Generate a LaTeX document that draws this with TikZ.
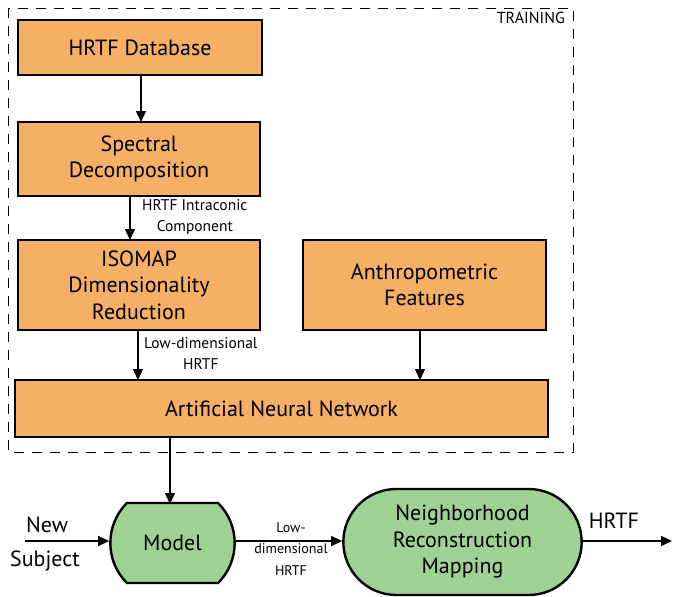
\documentclass[tikz,border=0pt]{standalone}
\usepackage{fontspec}
\setmainfont{PT Sans}
\usetikzlibrary{arrows.meta,shapes.misc}
\definecolor{boxorange}{RGB}{246,176,102}
\definecolor{boxgreen}{RGB}{160,209,148}
\begin{document}
\begin{tikzpicture}[x=1pt,y=-1pt,
  obox/.style={draw=black,line width=2.4pt,fill=boxorange,align=center,font=\fontsize{22}{26.5}\selectfont},
  gbox/.style={draw=black,line width=2.4pt,fill=boxgreen,align=center,font=\fontsize{22}{26.5}\selectfont},
  arr/.style={line width=1.5pt,-{Triangle[length=11pt,width=10pt]}},
  lab/.style={font=\fontsize{15.5}{21}\selectfont,align=center,inner sep=0pt}]
\useasboundingbox (0,0) rectangle (673,597);
\draw[dashed,line width=0.8pt,dash pattern=on 10pt off 8pt] (8,8) rectangle (573,452);
\node[anchor=east,font=\fontsize{16}{18}\selectfont,inner sep=0pt] (train) at (565,18) {TRAINING};
\node[obox,minimum width=244pt,minimum height=55pt] (db) at (140,47.5) {HRTF Database};
\node[obox,minimum width=242pt,minimum height=74pt] (sd) at (139,159) {Spectral\\Decomposition};
\node[obox,minimum width=242pt,minimum height=90pt] (iso) at (139,285) {ISOMAP\\Dimensionality\\Reduction};
\node[obox,minimum width=243pt,minimum height=90pt] (anth) at (424.5,285) {Anthropometric\\Features};
\node[obox,minimum width=533pt,minimum height=57pt] (ann) at (281.5,408.5) {Artificial Neural Network};
\node[gbox,rounded rectangle,rounded rectangle arc length=90,minimum width=131pt,minimum height=80pt] (model) at (172.5,543) {Model};
\node[gbox,rounded rectangle,minimum width=245pt,minimum height=106pt] (nrm) at (462.5,542) {Neighborhood\\Reconstruction\\Mapping};
\coordinate (db1) at (141,75); \coordinate (sd0) at (141,122);
\draw[arr] (db1) -- (sd0);
\coordinate (sd1) at (130,196); \coordinate (iso0) at (130,240);
\draw[arr] (sd1) -- (iso0);
\node[lab,anchor=north west] (l1) at (142,199) {HRTF Intraconic\\Component};
\coordinate (iso1) at (138,330); \coordinate (ann0) at (138,380);
\draw[arr] (iso1) -- (ann0);
\node[lab,anchor=north west] (l2) at (144,337) {Low-dimensional\\HRTF};
\coordinate (anth1) at (420,330); \coordinate (ann0b) at (420,380);
\draw[arr] (anth1) -- (ann0b);
\coordinate (ann1) at (170,437); \coordinate (model0) at (170,504);
\draw[arr] (ann1) -- (model0);
\coordinate (ns) at (25,541);
\draw[arr] (ns) -- (model.west |- 0,541);
\node[lab,font=\fontsize{22}{26}\selectfont] (new) at (47,525) {New};
\node[lab,font=\fontsize{22}{26}\selectfont] (subj) at (45,561) {Subject};
\draw[arr] (model.east |- 0,541) -- (nrm.west |- 0,541);
\node[lab,font=\fontsize{14}{21.5}\selectfont] (l3) at (291,549) {Low-\\dimensional\\HRTF};
\coordinate (out) at (672,541);
\draw[arr] (nrm.east |- 0,541) -- (out);
\node[lab,font=\fontsize{22}{26}\selectfont] (hrtf) at (614,521) {HRTF};
\end{tikzpicture}
\end{document}
